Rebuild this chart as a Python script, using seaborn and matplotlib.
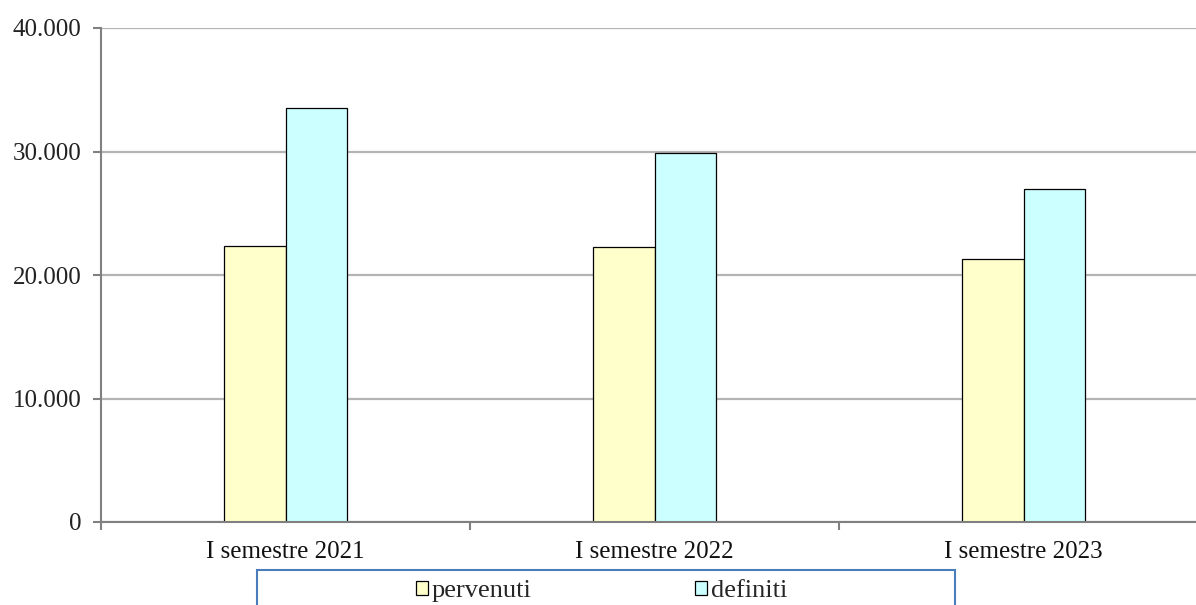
import numpy as np
import pandas as pd
import matplotlib.pyplot as plt
import seaborn as sns
from matplotlib.patches import Rectangle
from matplotlib.ticker import FuncFormatter

# Dati
periodi   = ['I semestre 2021', 'I semestre 2022', 'I semestre 2023']
pervenuti = [22350, 22250, 21300]
definiti  = [33500, 29900, 27000]

df = pd.DataFrame({
    'Periodo': periodi * 2,
    'Tipo':    ['pervenuti'] * 3 + ['definiti'] * 3,
    'Valore':  pervenuti + definiti,
})

sns.set_style('white')
plt.rcParams['font.family'] = ['Liberation Serif', 'DejaVu Serif']

fig = plt.figure(figsize=(11.96, 6.05), dpi=100)
ax = fig.add_axes([101 / 1196, 1 - 522 / 605, 1107 / 1196, 494 / 605])

sns.barplot(data=df, x='Periodo', y='Valore', hue='Tipo',
            palette={'pervenuti': '#FFFFCC', 'definiti': '#CCFFFF'},
            saturation=1, width=1 / 3, edgecolor='black', linewidth=0.9,
            legend=False, ax=ax)

ax.set_xlim(-0.5, 2.5)
ax.set_ylim(0, 40000)
ax.set_yticks(range(0, 40001, 10000))
ax.yaxis.set_major_formatter(FuncFormatter(lambda v, p: f'{int(v):,}'.replace(',', '.')))
ax.grid(axis='y', color='#b4b4b4', linewidth=1.6)
ax.set_axisbelow(True)

for s in ['top', 'right']:
    ax.spines[s].set_visible(False)
for s in ['left', 'bottom']:
    ax.spines[s].set_color('#808080')
    ax.spines[s].set_linewidth(1.5)

ax.set_xlabel('')
ax.set_ylabel('')
ax.tick_params(axis='y', left=True, length=6, width=1.5, color='#808080',
               labelsize=18, pad=8, labelcolor='#222222')
ax.tick_params(axis='x', which='major', bottom=False, labelsize=18, pad=10,
               labelcolor='#111111')
ax.set_xticks([-0.5, 0.5, 1.5, 2.5], minor=True)
ax.tick_params(axis='x', which='minor', bottom=True, length=6, width=1.5,
               color='#808080')

# Legenda con riquadro blu
handles = [Rectangle((0, 0), 1, 1, facecolor='#FFFFCC', edgecolor='black', linewidth=0.9),
           Rectangle((0, 0), 1, 1, facecolor='#CCFFFF', edgecolor='black', linewidth=0.9)]
fig.legend(handles, ['pervenuti', 'definiti'], loc='center left',
           bbox_to_anchor=(416 / 1196, 1 - 591 / 605), ncol=2, frameon=False,
           fontsize=19, handlelength=0.45, handleheight=0.45, handletextpad=0.15,
           columnspacing=6.2, borderaxespad=0, borderpad=0)
fig.patches.append(Rectangle((257 / 1196, -0.05), 698 / 1196, 0.05 + (605 - 570) / 605,
                             transform=fig.transFigure, fill=False,
                             edgecolor='#4a7ebb', linewidth=1.5))

fig.savefig('out.png', dpi=100)
